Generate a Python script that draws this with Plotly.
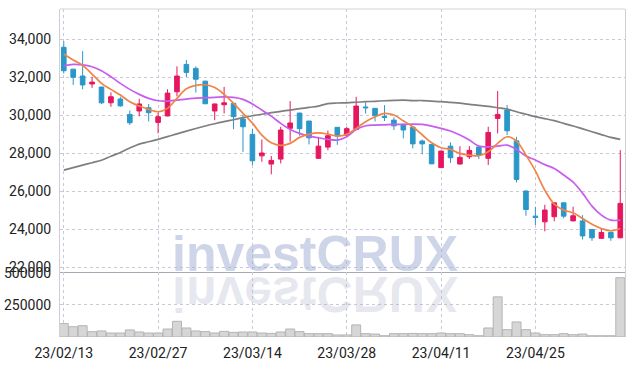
import plotly.graph_objects as go
from plotly.subplots import make_subplots

dates = ["23/02/13","23/02/14","23/02/15","23/02/16","23/02/17","23/02/20","23/02/21","23/02/22","23/02/23","23/02/24",
         "23/02/27","23/02/28","23/03/02","23/03/03","23/03/06","23/03/07","23/03/08","23/03/09","23/03/10","23/03/13",
         "23/03/14","23/03/15","23/03/16","23/03/17","23/03/20","23/03/21","23/03/22","23/03/23","23/03/24","23/03/27",
         "23/03/28","23/03/29","23/03/30","23/03/31","23/04/03","23/04/04","23/04/05","23/04/06","23/04/07","23/04/10",
         "23/04/11","23/04/12","23/04/13","23/04/14","23/04/17","23/04/18","23/04/19","23/04/20","23/04/21","23/04/24",
         "23/04/25","23/04/26","23/04/27","23/04/28","23/05/02","23/05/03","23/05/04","23/05/08","23/05/09","23/05/10"]

open_ = [33580,32430,32070,31650,31490,30660,30860,30050,30230,30400,
         29630,29970,31240,32680,32470,31800,30230,30560,30630,29810,
         29000,27870,27440,27700,29320,30120,29700,27740,28330,29370,
         28960,29260,30440,30370,29950,29750,29530,29380,28650,28470,
         27250,28380,27440,27820,28330,27740,29840,30280,28660,26020,
         24700,24400,24670,25400,24450,24450,24000,23530,23840,23560]
high = [33900,32450,33380,32030,31500,31210,30980,30260,30870,30600,
        30150,31370,32580,32910,32580,31820,30620,31500,30650,30020,
        29300,28730,27860,29400,30750,30140,29720,28870,29200,29380,
        29400,30980,30680,30380,30540,29900,29550,29400,28730,28480,
        28150,28580,28380,28380,28350,29400,31280,30550,28870,26050,
        25190,25300,25420,25420,25190,24750,24020,24000,23860,28170]
low = [32200,31600,31370,31450,30600,30450,30450,29490,29950,29680,
       29050,29950,31000,32020,31200,30600,29750,30100,29270,28080,
       27380,27560,26900,27470,28610,28930,28470,27720,28170,28450,
       28900,29240,30100,29680,29700,29230,28790,28260,27950,27440,
       27230,27500,27420,27700,27700,27390,29050,28960,26470,24720,
       24230,23900,24430,24580,24430,23470,23400,23520,23400,23540]
close = [32350,32000,31600,31750,30660,30980,30500,29610,30600,30140,
         29930,31170,32070,32260,31900,30610,30600,30660,29930,29400,
         27610,28020,27630,29230,29600,29300,28820,28380,28930,28910,
         29300,30490,30400,29980,29900,29450,29230,28500,28500,27450,
         28120,27770,27790,28160,27910,29100,30050,29190,26630,25050,
         24630,25020,25400,24700,24720,23660,23560,23840,23560,25370]
volume = [104000,80000,88000,41000,47000,31000,31000,55000,39000,31000,
          31000,62000,122000,70000,47000,42000,31000,44000,36000,39000,
          39000,31000,28000,39000,62000,42000,26000,26000,26000,16000,
          16000,94000,26000,23000,10000,26000,26000,28000,26000,26000,
          31000,26000,26000,18000,10000,70000,312000,57000,117000,57000,
          31000,18000,18000,26000,18000,23000,10000,10000,10000,461000]
ma5 = [33226,32911,32630,32174,31684,31368,31068,30716,30490,30316,
       30190,30368,30895,31400,31580,31610,31460,31105,30632,30105,
       29590,28963,28560,28420,28526,28842,29016,29084,29016,28911,
       29000,29316,29663,29926,30105,30016,29716,29400,28980,28560,
       28300,28211,28000,27910,27874,28084,28526,28874,28647,27910,
       27080,26068,25332,25016,24874,24579,24279,24053,23926,24053]
ma10 = [32611,32684,32660,32558,32347,32032,31684,31368,31105,30895,
        30768,30753,30805,30858,30911,30930,30947,30970,30947,30842,
        30600,30279,29960,29579,29263,29053,28911,28821,28737,28700,
        28880,29250,29453,29489,29505,29526,29526,29542,29526,29437,
        29316,29174,28963,28700,28384,28347,28384,28437,28211,27858,
        27650,27410,27210,26860,26490,25910,25226,24753,24490,24490]
ma60 = [27120,27250,27380,27510,27640,27850,28050,28280,28490,28610,
        28740,28880,29030,29170,29310,29440,29560,29670,29770,29880,
        29980,30060,30140,30210,30280,30350,30420,30490,30620,30650,
        30660,30690,30720,30740,30770,30790,30800,30780,30780,30750,
        30720,30680,30640,30580,30530,30470,30400,30330,30190,30060,
        29930,29830,29720,29580,29440,29290,29140,28990,28840,28740]

tick_labels = ["23/02/13","23/02/27","23/03/14","23/03/28","23/04/11","23/04/25"]
price_ticks = [22000,24000,26000,28000,30000,32000,34000]
vol_ticks = [250000,500000]

UP = "#E5175F"
DOWN = "#2A97C9"
GRID = "#c9c9db"
FONT = "Roboto, sans-serif"

fig = make_subplots(rows=2, cols=1, shared_xaxes=True, row_heights=[0.802, 0.198], vertical_spacing=0)

fig.add_trace(go.Candlestick(x=dates, open=open_, high=high, low=low, close=close,
                             increasing=dict(line=dict(color=UP, width=1), fillcolor=UP),
                             decreasing=dict(line=dict(color=DOWN, width=1), fillcolor=DOWN),
                             whiskerwidth=0, showlegend=False, hoverinfo="skip"), row=1, col=1)
fig.add_trace(go.Scatter(x=dates, y=ma60, mode="lines", line=dict(color="#7f7f7f", width=1.7, shape="spline"),
                         showlegend=False, hoverinfo="skip"), row=1, col=1)
fig.add_trace(go.Scatter(x=dates, y=ma10, mode="lines", line=dict(color="#c85cf0", width=1.7, shape="spline"),
                         showlegend=False, hoverinfo="skip"), row=1, col=1)
fig.add_trace(go.Scatter(x=dates, y=ma5, mode="lines", line=dict(color="#ef8447", width=1.7, shape="spline"),
                         showlegend=False, hoverinfo="skip"), row=1, col=1)
fig.add_trace(go.Bar(x=dates, y=volume, marker=dict(color="#d6d6d6", line=dict(color="#b4b4b4", width=1)),
                     showlegend=False, hoverinfo="skip"), row=2, col=1)

xcommon = dict(type="category", range=[-0.4, 59.5], tickmode="array", tickvals=tick_labels,
               showgrid=True, gridcolor=GRID, griddash="dot", gridwidth=1, zeroline=False, automargin=False)
fig.update_xaxes(**xcommon)
fig.update_xaxes(rangeslider_visible=False, showticklabels=False, showline=True, linecolor="#a9a9b4",
                 linewidth=1, row=1, col=1)
fig.update_xaxes(ticktext=tick_labels, showticklabels=True, showline=False, ticks="outside", ticklen=3,
                 tickcolor="rgba(0,0,0,0)", tickfont=dict(family=FONT, size=14, color="#222222"), row=2, col=1)

fig.update_yaxes(range=[21758, 35595], autorange=False, tickvals=price_ticks, tickformat=",d", showgrid=True,
                 gridcolor=GRID, griddash="dot", zeroline=False, showline=True, mirror=True, linecolor="#cfcfd6",
                 ticks="outside", ticklen=5, tickcolor="rgba(0,0,0,0)", automargin=False,
                 tickfont=dict(family=FONT, size=14, color="#222222"), row=1, col=1)
fig.update_yaxes(range=[0, 505000], autorange=False, tickvals=vol_ticks, tickformat="d", showgrid=True,
                 gridcolor=GRID, griddash="dot", zeroline=False, showline=True, mirror=True, linecolor="#cfcfd6",
                 ticks="outside", ticklen=5, tickcolor="rgba(0,0,0,0)", automargin=False,
                 tickfont=dict(family=FONT, size=14, color="#222222"), row=2, col=1)

fig.add_shape(type="line", xref="x domain", yref="y domain", x0=0, x1=1, y0=1, y1=1,
              line=dict(color="#d4d4da", width=1))

fig.add_annotation(text="investCRUX", xref="paper", yref="paper", x=0.452, y=0.2537,
                   xanchor="center", yanchor="middle", showarrow=False,
                   font=dict(family="Liberation Sans, Arial, sans-serif", size=50,
                             color="rgba(160,172,212,0.5)", weight="bold"))
fig.add_annotation(text="investCRUX", xref="paper", yref="paper", x=0.452, y=0.1319,
                   xanchor="center", yanchor="middle", showarrow=False,
                   font=dict(family="Liberation Sans, Arial, sans-serif", size=50,
                             color="rgba(170,176,200,0.28)", weight="bold"))

fig.update_layout(width=634, height=366, margin=dict(l=60, r=9, t=9, b=29, autoexpand=False),
                  paper_bgcolor="white", plot_bgcolor="white", bargap=0.05, showlegend=False)

flip_js = """
document.body.style.margin = '0';
document.body.style.overflow = 'hidden';
var gd = document.getElementById('{plot_id}');
function flipWM(){
  var t = gd.querySelectorAll('g.annotation text.annotation-text');
  if (t.length > 1) {
    var e = t[1];
    e.style.transformBox = 'fill-box';
    e.style.transformOrigin = 'center';
    e.style.transform = 'scaleY(-1)';
  }
}
flipWM();
if (gd.on) { gd.on('plotly_afterplot', flipWM); }
"""

fig.write_html("out.html", post_script=flip_js, config={"displayModeBar": False})
